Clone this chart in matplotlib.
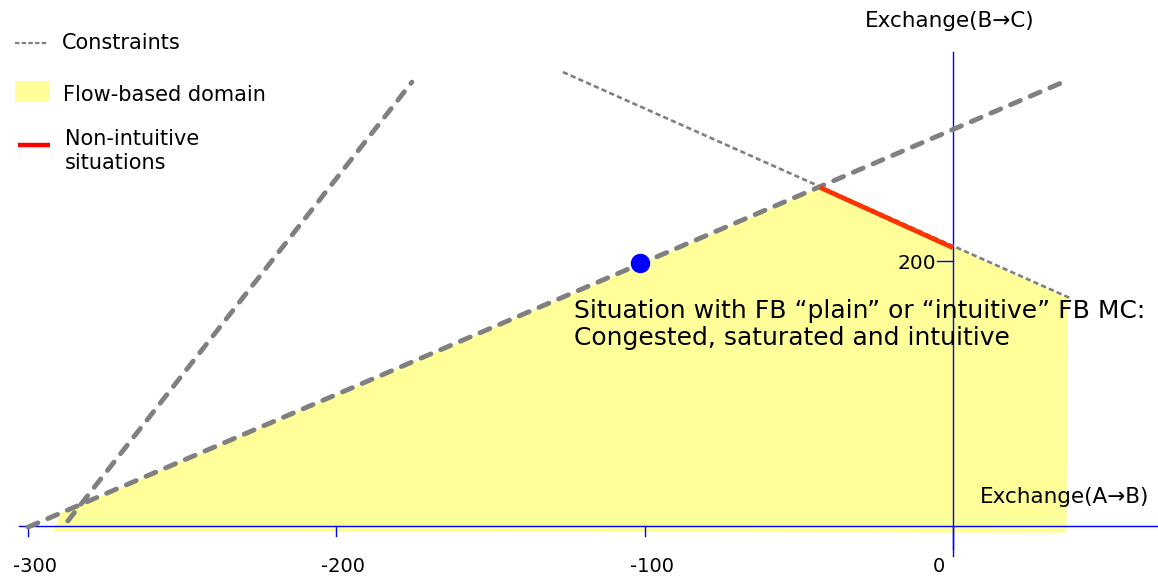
import numpy as np
import matplotlib
matplotlib.use('Agg')
import matplotlib.pyplot as plt
import matplotlib.transforms as mtransforms
from matplotlib.patches import Polygon, Rectangle
from matplotlib.lines import Line2D

# data (Exchange A->B on x, Exchange B->C on y)
steep_x = [-287.1, -175.5]
steep_y = [3.8, 335.0]
shallow_x = [-300.0, 35.7]
shallow_y = [-0.8, 335.0]
dotted_x = [-126.5, 38.0]
dotted_y = [342.6, 172.0]
red_x = [-43.1, 0.0]
red_y = [255.5, 210.0]
domain_x = [-292.0, -289.5, -43.1, 37.3, 36.8]
domain_y = [-4.0, 9.5, 255.5, 172.0, -5.0]
dot_x, dot_y = -101.5, 198.5
xticks = [-300, -200, -100, 0]
xtick_labels = ['-300', '-200', '-100', '0']
yticks = [200]
ytick_labels = ['200']

GRAY = '#808080'
YELLOW = '#ffff99'
BLUE = '#0000ff'

fig = plt.figure(figsize=(11.58, 5.81), dpi=100)
ax = fig.add_axes([0, 0, 1, 1])
ax.set_xlim(-309.1, 66.5)
ax.set_ylim(-41.5, 397.0)
ax.axis('off')

# flow-based domain
ax.add_patch(Polygon(np.column_stack([domain_x, domain_y]), closed=True,
                     facecolor=YELLOW, edgecolor='none', zorder=1))

# axes lines
ax.plot([-303, 66.5], [0, 0], color=BLUE, lw=1.0, zorder=2)
ax.plot([0, 0], [-23, 357.7], color=BLUE, lw=1.0, zorder=2)

# ticks
px = mtransforms.offset_copy
for t, lab in zip(xticks, xtick_labels):
    L = 23 if t == 0 else 10
    ax.plot([t, t], [0, -L / 1.325 * 1.0], color=BLUE, lw=1.0, zorder=2)
    dx = -14 if t == 0 else 7
    ax.text(t, 0, lab, fontsize=14, ha='center', va='center',
            transform=px(ax.transData, fig=fig, x=dx, y=-40, units='dots'))
for t, lab in zip(yticks, ytick_labels):
    ax.plot([-16 / 3.083, 0], [t, t], color=BLUE, lw=1.0, zorder=2)
    ax.text(0, t, lab, fontsize=14.5, ha='center', va='center',
            transform=px(ax.transData, fig=fig, x=-36, y=-2, units='dots'))

# constraints
ax.plot(steep_x, steep_y, color=GRAY, lw=3.5, dashes=(2.2, 2.2),
        dash_capstyle='round', zorder=3)
ax.plot(shallow_x, shallow_y, color=GRAY, lw=3.5, dashes=(2.2, 2.2),
        dash_capstyle='round', zorder=3)
ax.plot(dotted_x, dotted_y, color=GRAY, lw=1.9, dashes=(2.0, 1.2), zorder=3)

# non-intuitive situations
ax.plot(red_x, red_y, color='#ff3300', lw=3.4, solid_capstyle='butt', zorder=4)

# current situation
ax.plot(dot_x, dot_y, 'o', color=BLUE, markersize=13, zorder=5)

ax.text(-123, 171, 'Situation with FB \u201cplain\u201d or \u201cintuitive\u201d FB MC:\nCongested, saturated and intuitive',
        fontsize=18, ha='left', va='top', linespacing=1.15, zorder=6)

# axis titles
fig.text(950 / 1158, 1 - 21 / 581, 'Exchange(B\u2192C)', fontsize=15.5, ha='center', va='center')
fig.text(1065 / 1158, 1 - 497 / 581, 'Exchange(A\u2192B)', fontsize=15.5, ha='center', va='center')

# legend
W, H = 1158, 581
fig.add_artist(Line2D([15 / W, 47 / W], [1 - 43 / H, 1 - 43 / H], color=GRAY, lw=1.6,
                      dashes=(2.0, 1.0)))
fig.text(62 / W, 1 - 43 / H, 'Constraints', fontsize=15, va='center')
fig.add_artist(Rectangle((15 / W, 1 - 102 / H), 35 / W, 21 / H, facecolor=YELLOW,
                         edgecolor='none', transform=fig.transFigure))
fig.text(63 / W, 1 - 95 / H, 'Flow-based domain', fontsize=15, va='center')
fig.add_artist(Line2D([18 / W, 50 / W], [1 - 145 / H, 1 - 145 / H], color='#ff0000', lw=3.2,
                      solid_capstyle='butt'))
fig.text(65 / W, 1 - 151 / H, 'Non-intuitive\nsituations', fontsize=15, va='center',
         linespacing=1.2)

fig.savefig('out.png', dpi=100)
